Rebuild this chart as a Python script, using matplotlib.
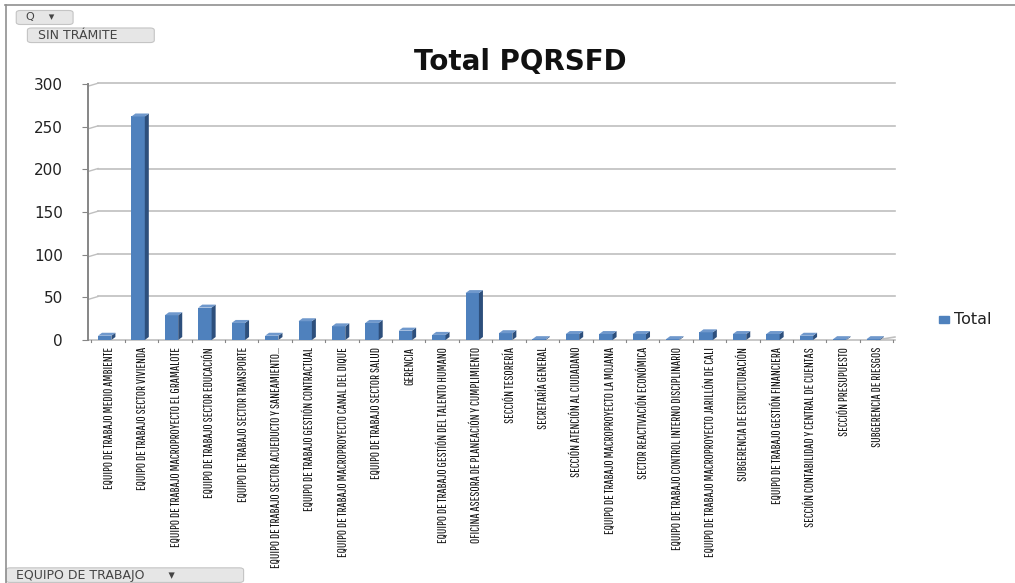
import matplotlib
matplotlib.use("Agg")
import matplotlib.pyplot as plt
from matplotlib.patches import Polygon, FancyBboxPatch
from matplotlib.lines import Line2D
import logging
logging.getLogger("matplotlib.font_manager").setLevel(logging.ERROR)

# ── DATOS ──────────────────────────
equipos = [
    "EQUIPO DE TRABAJO MEDIO AMBIENTE",
    "EQUIPO DE TRABAJO SECTOR VIVIENDA",
    "EQUIPO DE TRABAJO MACROPROYECTO EL GRAMALOTE",
    "EQUIPO DE TRABAJO SECTOR EDUCACIÓN",
    "EQUIPO DE TRABAJO SECTOR TRANSPORTE",
    "EQUIPO DE TRABAJO SECTOR ACUEDUCTO Y SANEAMIENTO...",
    "EQUIPO DE TRABAJO GESTIÓN CONTRACTUAL",
    "EQUIPO DE TRABAJO MACROPROYECTO CANAL DEL DIQUE",
    "EQUIPO DE TRABAJO SECTOR SALUD",
    "GERENCIA",
    "EQUIPO DE TRABAJO GESTIÓN DEL TALENTO HUMANO",
    "OFICINA ASESORA DE PLANEACIÓN Y CUMPLIMIENTO",
    "SECCIÓN TESORERÍA",
    "SECRETARÍA GENERAL",
    "SECCIÓN ATENCIÓN AL CIUDADANO",
    "EQUIPO DE TRABAJO MACROPROYECTO LA MOJANA",
    "SECTOR REACTIVACIÓN ECONÓMICA",
    "EQUIPO DE TRABAJO CONTROL INTERNO DISCIPLINARIO",
    "EQUIPO DE TRABAJO MACROPROYECTO JARILLÓN DE CALI",
    "SUBGERENCIA DE ESTRUCTURACIÓN",
    "EQUIPO DE TRABAJO GESTIÓN FINANCIERA",
    "SECCIÓN CONTABILIDAD Y CENTRAL DE CUENTAS",
    "SECCIÓN PRESUPUESTO",
    "SUBGERENCIA DE RIESGOS",
]
totales = [5, 262, 29, 38, 20, 5, 22, 16, 20, 11, 6, 55,
           8, 1, 7, 7, 7, 1, 9, 7, 7, 5, 1, 1]
y_ticks = [0, 50, 100, 150, 200, 250, 300]

# ── COLORES ──────────────────────────
FRONT = "#4f81bd"
SIDE = "#2d4f7c"
TOP = "#6f98cc"
GRID = "#bfbfbf"
AXIS = "#868686"
NARROW = ["Pathway Gothic One", "Roboto Condensed", "Archivo Narrow",
          "PT Sans Narrow", "DejaVu Sans"]

fig = plt.figure(figsize=(10.15, 5.83), dpi=100)
ax = fig.add_axes([0.0867, 0.4168, 0.795, 0.439])

w = 0.40      # ancho frontal
d = 0.12      # profundidad lateral
dy = 3.5      # desplazamiento vertical de la cara lateral

xs = list(range(len(totales)))
bars = ax.bar(xs, totales, width=w, color=FRONT, edgecolor="none", zorder=3)
for b in bars:
    x0 = b.get_x()
    x1 = x0 + b.get_width()
    h = b.get_height()
    ax.add_patch(Polygon([(x1, 0), (x1 + d, dy), (x1 + d, h + dy), (x1, h)],
                         closed=True, color=SIDE, zorder=3, lw=0))
    ax.add_patch(Polygon([(x0, h), (x0 + d, h + dy), (x1 + d, h + dy), (x1, h)],
                         closed=True, color=TOP, zorder=3, lw=0))

ax.set_ylim(0, 300)
ax.set_xlim(-0.5, 23.65)
ax.set_yticks(y_ticks)
ax.set_yticklabels([str(v) for v in y_ticks], fontsize=11, color="#222222")
ax.tick_params(axis="y", length=4, color=AXIS, pad=14)
ax.set_xticks([x + 0.12 for x in xs])
ax.set_xticklabels(equipos, rotation=90, fontsize=9.4, family=NARROW, color="#111111")
ax.tick_params(axis="x", length=0, pad=5)

# rejilla en perspectiva
for v in y_ticks[1:]:
    ax.plot([-0.5, -0.2], [v - 2.5, v + 1], color=GRID, lw=1, zorder=1, clip_on=False)
    ax.plot([-0.2, 23.65], [v + 1, v + 1], color=GRID, lw=1.2, zorder=1, clip_on=False)
# suelo
ax.plot([-0.5, 23.65], [0, 0], color=GRID, lw=1.2, zorder=2, clip_on=False)
ax.plot([23.1, 23.65], [0, 3.5], color=GRID, lw=1.2, zorder=2, clip_on=False)
for i in range(len(totales) + 1):
    ax.plot([i - 0.5 + 0.1, i - 0.5 + 0.1], [0, -2.5], color=AXIS, lw=0.8,
            zorder=2, clip_on=False)

for s in ["top", "right", "bottom"]:
    ax.spines[s].set_visible(False)
ax.spines["left"].set_color(AXIS)
ax.spines["left"].set_linewidth(1.4)

fig.text(0.513, 0.893, "Total PQRSFD", ha="center", va="center",
         fontsize=20, fontweight="bold", color="#111111")

# leyenda
fig.patches.append(plt.Rectangle((0.925, 0.446), 0.010, 0.012,
                                 transform=fig.transFigure, color=FRONT))
fig.text(0.940, 0.452, "Total", ha="left", va="center", fontsize=11.5, color="#222222")

# marco del informe
fig.add_artist(Line2D([0.005, 1.0], [0.992, 0.992], color="#909090", lw=1.2))
fig.add_artist(Line2D([0.006, 0.006], [0.0, 0.992], color="#909090", lw=1.2))

def boton(x, y, wd, ht, texto, fs=9):
    fig.patches.append(FancyBboxPatch((x, y), wd, ht, boxstyle="round,pad=0.002,rounding_size=0.004",
                                      transform=fig.transFigure, facecolor="#e6e6e6",
                                      edgecolor="#c4c4c4", lw=0.8))
    fig.text(x + 0.008, y + ht / 2, texto, ha="left", va="center", fontsize=fs,
             color="#444444", family="DejaVu Sans")

boton(0.018, 0.960, 0.052, 0.020, "Q    ▾", fs=8)
boton(0.029, 0.929, 0.121, 0.021, "SIN TRÁMITE")
boton(0.008, 0.003, 0.230, 0.021, "EQUIPO DE TRABAJO      ▾")

fig.savefig("out.png", dpi=100, facecolor="white")
